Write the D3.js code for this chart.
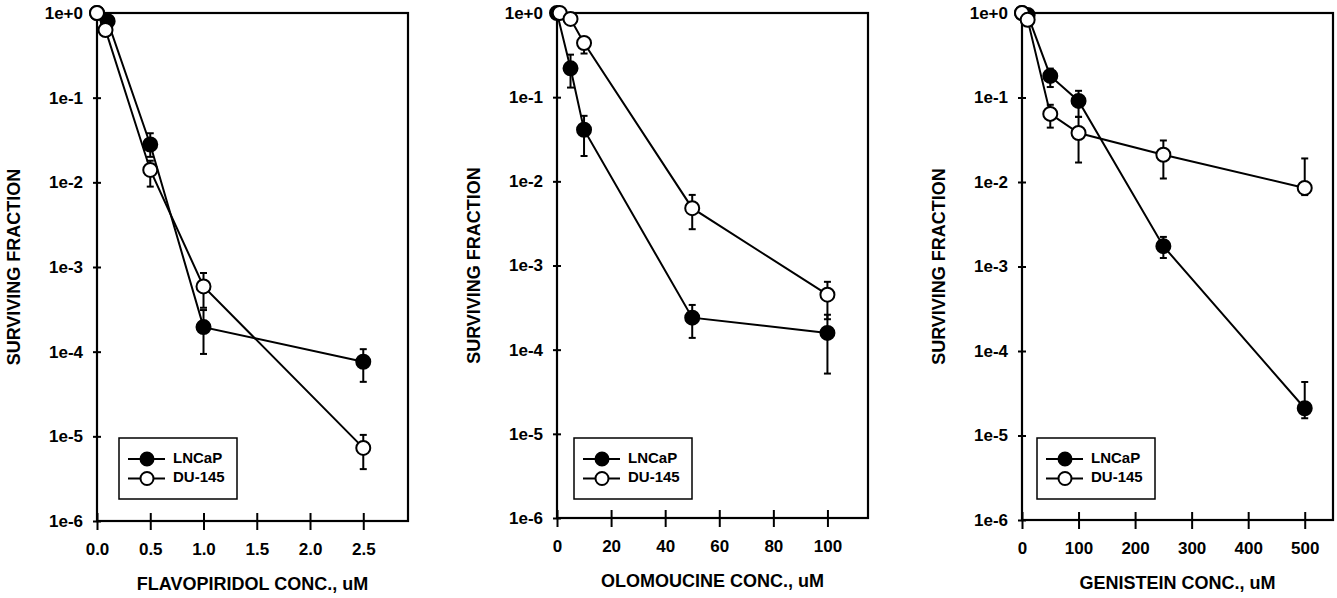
<!DOCTYPE html>
<html>
<head>
<meta charset="utf-8">
<script src="https://cdn.jsdelivr.net/npm/d3@7"></script>
<style>
  body { margin: 0; background: #fff; }
  text { font-family: "Liberation Sans", Arial, sans-serif; font-weight: bold; fill: #000; }
</style>
</head>
<body>
<svg id="chart" width="1337" height="598"></svg>
<script>
// y axis shared by all three panels
const yTickValues = [1, 1e-1, 1e-2, 1e-3, 1e-4, 1e-5, 1e-6];
const yTickLabels = ["1e+0", "1e-1", "1e-2", "1e-3", "1e-4", "1e-5", "1e-6"];
const seriesNames = ["LNCaP", "DU-145"];

// Flavopiridol (uM)
const flavoTicks = [0, 0.5, 1, 1.5, 2, 2.5];
const flavoTickLabels = ["0.0", "0.5", "1.0", "1.5", "2.0", "2.5"];
const flavoLNCaP = [
  { x: 0, y: 1 },
  { x: 0.1, y: 0.8 },
  { x: 0.5, y: 0.028, lo: 0.02, hi: 0.038 },
  { x: 1.0, y: 1.95e-4, lo: 9.4e-5, hi: 3.1e-4 },
  { x: 2.5, y: 7.6e-5, lo: 4.4e-5, hi: 1.07e-4 },
];
const flavoDU145 = [
  { x: 0, y: 1 },
  { x: 0.08, y: 0.63 },
  { x: 0.5, y: 0.014, lo: 0.0089, hi: 0.018 },
  { x: 1.0, y: 5.9e-4, lo: 3.3e-4, hi: 8.5e-4 },
  { x: 2.5, y: 7.3e-6, lo: 4.1e-6, hi: 1.04e-5 },
];

// Olomoucine (uM)
const oloTicks = [0, 20, 40, 60, 80, 100];
const oloTickLabels = ["0", "20", "40", "60", "80", "100"];
const oloLNCaP = [
  { x: 0, y: 1 },
  { x: 5, y: 0.22, lo: 0.13, hi: 0.32 },
  { x: 10, y: 0.041, lo: 0.02, hi: 0.06 },
  { x: 50, y: 2.4e-4, lo: 1.38e-4, hi: 3.4e-4 },
  { x: 100, y: 1.58e-4, lo: 5.2e-5, hi: 2.6e-4 },
];
const oloDU145 = [
  { x: 1, y: 1 },
  { x: 5, y: 0.85 },
  { x: 10, y: 0.44, lo: 0.33, hi: 0.5 },
  { x: 50, y: 4.8e-3, lo: 2.7e-3, hi: 6.9e-3 },
  { x: 100, y: 4.5e-4, lo: 2.3e-4, hi: 6.4e-4 },
];

// Genistein (uM)
const geniTicks = [0, 100, 200, 300, 400, 500];
const geniTickLabels = ["0", "100", "200", "300", "400", "500"];
const geniLNCaP = [
  { x: 0, y: 1 },
  { x: 10, y: 0.95 },
  { x: 50, y: 0.18, lo: 0.133, hi: 0.22 },
  { x: 100, y: 0.091, lo: 0.059, hi: 0.12 },
  { x: 250, y: 1.74e-3, lo: 1.26e-3, hi: 2.24e-3 },
  { x: 500, y: 2.1e-5, lo: 1.6e-5, hi: 4.3e-5 },
];
const geniDU145 = [
  { x: 0, y: 1 },
  { x: 10, y: 0.83 },
  { x: 50, y: 0.064, lo: 0.044, hi: 0.082 },
  { x: 100, y: 0.038, lo: 0.017, hi: 0.059 },
  { x: 250, y: 0.021, lo: 0.011, hi: 0.031 },
  { x: 500, y: 0.0085, lo: 0.007, hi: 0.019 },
];

const panels = [
  {
    left: 97, right: 408, top: 13, bottom: 521, xMax: 2.92,
    ticks: flavoTicks, tickLabels: flavoTickLabels,
    title: "FLAVOPIRIDOL CONC., uM",
    series: [flavoLNCaP, flavoDU145], legendX: 22,
  },
  {
    left: 557, right: 868, top: 13, bottom: 518, xMax: 115,
    ticks: oloTicks, tickLabels: oloTickLabels,
    title: "OLOMOUCINE CONC., uM",
    series: [oloLNCaP, oloDU145], legendX: 17,
  },
  {
    left: 1022, right: 1333, top: 13, bottom: 520, xMax: 550,
    ticks: geniTicks, tickLabels: geniTickLabels,
    title: "GENISTEIN CONC., uM",
    series: [geniLNCaP, geniDU145], legendX: 15,
  },
];

const svg = d3.select("#chart");
const radius = 7;

function drawPanel(p) {
  const g = svg.append("g");
  const x = d3.scaleLinear().domain([0, p.xMax]).range([p.left, p.right]);
  const y = d3.scaleLog().domain([1e-6, 1]).range([p.bottom, p.top]);

  // x axis: ticks cross the axis line
  const xAxis = g.append("g")
    .attr("transform", `translate(0,${p.bottom})`)
    .call(d3.axisBottom(x).tickValues(p.ticks)
      .tickFormat((d, i) => p.tickLabels[i]).tickSizeOuter(0));
  xAxis.select(".domain").remove();
  xAxis.selectAll(".tick line")
    .attr("y1", -8).attr("y2", 9)
    .attr("stroke", "#000").attr("stroke-width", 2);
  xAxis.selectAll(".tick text")
    .attr("y", 22).attr("dy", "0.71em")
    .style("font-size", "17px");

  // y axis
  const yAxis = g.append("g")
    .attr("transform", `translate(${p.left},0)`)
    .call(d3.axisLeft(y).tickValues(yTickValues)
      .tickFormat((d, i) => yTickLabels[i]).tickSizeOuter(0));
  yAxis.select(".domain").remove();
  yAxis.selectAll(".tick line")
    .attr("x1", -4).attr("x2", 4)
    .attr("stroke", "#000").attr("stroke-width", 2);
  yAxis.selectAll(".tick text")
    .attr("x", -14)
    .style("font-size", "17px");

  // frame
  g.append("rect")
    .attr("x", p.left).attr("y", p.top)
    .attr("width", p.right - p.left).attr("height", p.bottom - p.top)
    .attr("fill", "none").attr("stroke", "#000").attr("stroke-width", 2.2);

  // titles
  g.append("text")
    .attr("x", (p.left + p.right) / 2).attr("y", p.bottom + 64)
    .attr("text-anchor", "middle").attr("dominant-baseline", "middle")
    .style("font-size", "18px")
    .text(p.title);
  g.append("text")
    .attr("transform", `translate(${p.left - 82},${(p.top + p.bottom) / 2}) rotate(-90)`)
    .attr("text-anchor", "middle").attr("dominant-baseline", "middle")
    .style("font-size", "18px")
    .text("SURVIVING FRACTION");

  const line = d3.line().x((d) => x(d.x)).y((d) => y(d.y));

  p.series.forEach((data) => {
    g.append("path")
      .datum(data)
      .attr("d", line)
      .attr("fill", "none").attr("stroke", "#000").attr("stroke-width", 2);
  });

  // error bars then markers
  p.series.forEach((data) => {
    const bars = data.filter((d) => d.lo !== undefined);
    const eb = g.append("g").selectAll("g").data(bars).enter().append("g");
    eb.append("line")
      .attr("x1", (d) => x(d.x)).attr("x2", (d) => x(d.x))
      .attr("y1", (d) => y(d.lo)).attr("y2", (d) => y(d.hi))
      .attr("stroke", "#000").attr("stroke-width", 2);
    ["lo", "hi"].forEach((k) => {
      eb.append("line")
        .attr("x1", (d) => x(d.x) - 3.5).attr("x2", (d) => x(d.x) + 3.5)
        .attr("y1", (d) => y(d[k])).attr("y2", (d) => y(d[k]))
        .attr("stroke", "#000").attr("stroke-width", 2);
    });
  });

  p.series.forEach((data, si) => {
    g.append("g").selectAll("circle").data(data).enter().append("circle")
      .attr("cx", (d) => x(d.x)).attr("cy", (d) => y(d.y))
      .attr("r", radius)
      .attr("fill", si === 0 ? "#000" : "#fff")
      .attr("stroke", "#000").attr("stroke-width", 2);
  });

  // legend
  const lx = p.left + p.legendX;
  const ly = p.top + 425;
  const legend = g.append("g").attr("transform", `translate(${lx},${ly})`);
  legend.append("rect")
    .attr("width", 118).attr("height", 61)
    .attr("fill", "#fff").attr("stroke", "#000").attr("stroke-width", 1.5);
  seriesNames.forEach((name, i) => {
    const yy = 21 + i * 19.5;
    legend.append("line")
      .attr("x1", 9).attr("x2", 46).attr("y1", yy).attr("y2", yy)
      .attr("stroke", "#000").attr("stroke-width", 2);
    legend.append("circle")
      .attr("cx", 28).attr("cy", yy).attr("r", 6.5)
      .attr("fill", i === 0 ? "#000" : "#fff")
      .attr("stroke", "#000").attr("stroke-width", 2);
    legend.append("text")
      .attr("x", 54).attr("y", yy)
      .attr("dominant-baseline", "middle")
      .style("font-size", "15px")
      .text(name);
  });
}

panels.forEach(drawPanel);
</script>
</body>
</html>
